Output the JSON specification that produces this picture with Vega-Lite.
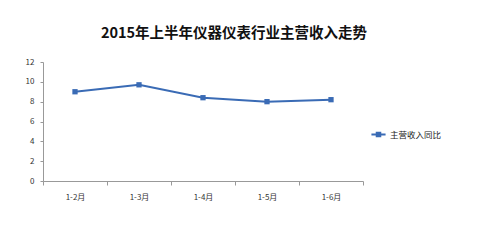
{
  "$schema": "https://vega.github.io/schema/vega-lite/v6.json",
  "width": 320,
  "height": 119,
  "autosize": {"type": "none"},
  "padding": {"left": 43, "top": 62, "right": 120, "bottom": 60},
  "background": "white",
  "config": {"view": {"stroke": null}, "font": "Noto Sans CJK SC"},
  "title": {
    "text": "2015年上半年仪器仪表行业主营收入走势",
    "fontSize": 14.5,
    "fontWeight": "bold",
    "color": "#111",
    "anchor": "middle",
    "frame": "group",
    "dx": 31,
    "offset": 17
  },
  "data": {"values": [
    {"month": "1-2月", "value": 9.0, "series": "主营收入同比"},
    {"month": "1-3月", "value": 9.7, "series": "主营收入同比"},
    {"month": "1-4月", "value": 8.4, "series": "主营收入同比"},
    {"month": "1-5月", "value": 8.0, "series": "主营收入同比"},
    {"month": "1-6月", "value": 8.2, "series": "主营收入同比"}
  ]},
  "mark": {"type": "line", "strokeWidth": 2, "point": {"shape": "square", "size": 28, "filled": true}},
  "encoding": {
    "x": {
      "field": "month", "type": "ordinal", "sort": null,
      "scale": {"paddingInner": 0, "paddingOuter": 0},
      "axis": {"title": null, "labelAngle": 0, "labelFontSize": 8, "labelColor": "#333", "domainColor": "#999", "tickColor": "#999", "tickBand": "extent", "tickSize": 4, "labelPadding": 8, "grid": false}
    },
    "y": {
      "field": "value", "type": "quantitative",
      "scale": {"domain": [0, 12]},
      "axis": {"title": null, "values": [0, 2, 4, 6, 8, 10, 12], "labelFontSize": 8, "labelColor": "#333", "domainColor": "#999", "tickColor": "#999", "tickSize": 3, "labelPadding": 6, "grid": false}
    },
    "color": {
      "field": "series", "type": "nominal",
      "scale": {"range": ["#3a6bb5"]},
      "legend": {
        "title": null, "orient": "none", "legendX": 327, "legendY": 64,
        "symbolType": "M-1,0L1,0M-0.25,-0.25H0.25V0.25H-0.25Z",
        "symbolSize": 200, "symbolStrokeWidth": 2, "labelFontSize": 8.5, "labelColor": "#222", "labelOffset": 3
      }
    }
  }
}
